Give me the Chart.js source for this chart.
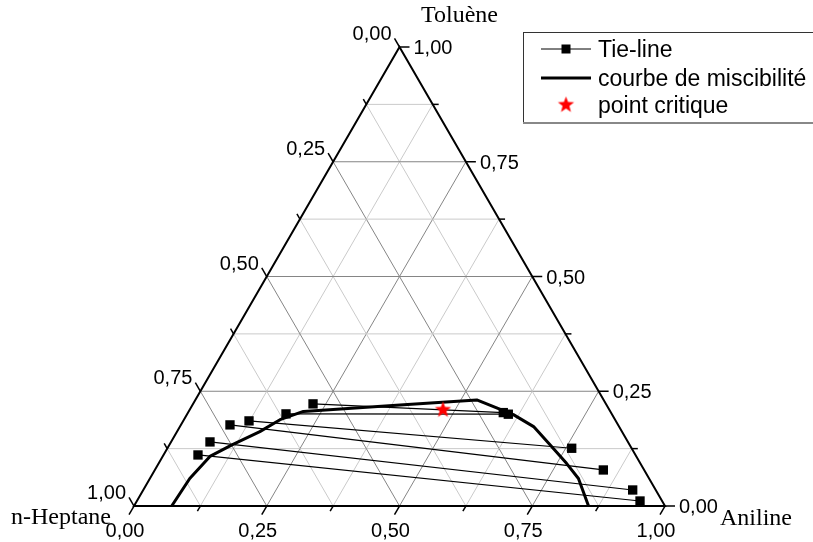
<!DOCTYPE html>
<html><head><meta charset="utf-8">
<script src="https://cdn.jsdelivr.net/npm/chart.js@4/dist/chart.umd.min.js"></script>
<style>html,body{margin:0;padding:0;background:#fff}canvas{display:block}</style>
</head><body>
<canvas id="c" width="813" height="542"></canvas>
<script>
// ---- data (mass fractions) ----
const vertexNames = ['n-Heptane', 'Toluène', 'Aniline'];
const tickValues = [0, 0.25, 0.5, 0.75, 1];
const tickLabels = ['0,00', '0,25', '0,50', '0,75', '1,00'];
const minorTickValues = [0.125, 0.375, 0.625, 0.875];
const gridValues = [0.125, 0.25, 0.375, 0.5, 0.625, 0.75, 0.875];

// tie-lines: heptane-rich end (left) and aniline-rich end (right)
const tieLeftToluene  = [0.2225, 0.2007, 0.1854, 0.1767, 0.1396, 0.1112];
const tieLeftAniline  = [0.2259, 0.1859, 0.1239, 0.0924, 0.0733, 0.0649];
const tieRightToluene = [0.2035, 0.2000, 0.1258, 0.0785, 0.0349, 0.0109];
const tieRightAniline = [0.5937, 0.6049, 0.7614, 0.8446, 0.9217, 0.9475];

// miscibility (binodal) curve
const curveToluene = [0.000, 0.060, 0.108, 0.133, 0.162, 0.188, 0.206, 0.220, 0.231, 0.199, 0.173, 0.137, 0.093, 0.060, 0.000];
const curveAniline = [0.071, 0.075, 0.089, 0.118, 0.156, 0.181, 0.216, 0.391, 0.530, 0.615, 0.666, 0.712, 0.768, 0.807, 0.856];

// critical point
const criticalToluene = [0.2116];
const criticalAniline = [0.4761];

const legendLabels = ['Tie-line', 'courbe de miscibilité', 'point critique'];

// ---- helpers ----
const xy = (a, t) => ({ x: a + t / 2, y: t });

function makeStar(r, color) {
  const s = Math.ceil(2 * r + 2);
  const c = document.createElement('canvas');
  c.width = s; c.height = s;
  const g = c.getContext('2d');
  g.fillStyle = color;
  g.beginPath();
  for (let i = 0; i < 10; i++) {
    const rr = i % 2 ? r * 0.42 : r;
    const ang = -Math.PI / 2 + i * Math.PI / 5;
    g.lineTo(s / 2 + rr * Math.cos(ang), s / 2 + 1 + rr * Math.sin(ang));
  }
  g.closePath();
  g.fill();
  return c;
}
const starImg = makeStar(8.5, '#ff0000');

const datasets = [];
for (let i = 0; i < tieLeftToluene.length; i++) {
  datasets.push({
    data: [xy(tieLeftAniline[i], tieLeftToluene[i]), xy(tieRightAniline[i], tieRightToluene[i])],
    showLine: true, borderColor: '#000', borderWidth: 1.2,
    pointStyle: 'rect', pointRadius: 6.6, pointBackgroundColor: '#000', pointBorderWidth: 0,
    clip: false, order: 2
  });
}
datasets.push({
  data: curveAniline.map((a, i) => xy(a, curveToluene[i])),
  showLine: true, borderColor: '#000', borderWidth: 3, pointRadius: 0, tension: 0,
  borderJoinStyle: 'round', clip: false, order: 1
});
datasets.push({
  data: criticalAniline.map((a, i) => xy(a, criticalToluene[i])),
  showLine: false, pointStyle: starImg, pointRadius: 9, clip: false, order: 0
});

const SANS = '"Liberation Sans", Arial, sans-serif';
const SERIF = '"Liberation Serif", "Times New Roman", serif';

const ternaryPlugin = {
  id: 'ternary',
  beforeDatasetsDraw(chart) {
    const ctx = chart.ctx, sx = chart.scales.x, sy = chart.scales.y;
    const P = (a, t) => [sx.getPixelForValue(a + t / 2), sy.getPixelForValue(t)];
    const line = (p, q) => { ctx.beginPath(); ctx.moveTo(p[0], p[1]); ctx.lineTo(q[0], q[1]); ctx.stroke(); };
    ctx.save();
    // grid
    ctx.lineWidth = 1;
    gridValues.forEach(g => {
      const major = Math.abs(g / 0.25 - Math.round(g / 0.25)) < 1e-6;
      ctx.strokeStyle = major ? '#858585' : '#cacaca';
      line(P(0, g), P(1 - g, g));          // constant toluene
      line(P(g, 0), P(g, 1 - g));          // constant aniline
      line(P(1 - g, 0), P(0, 1 - g));      // constant heptane
    });
    // triangle
    ctx.strokeStyle = '#000';
    ctx.lineWidth = 2;
    ctx.lineJoin = 'miter';
    ctx.beginPath();
    const A = P(0, 0), B = P(1, 0), C = P(0, 1);
    ctx.moveTo(A[0], A[1]); ctx.lineTo(B[0], B[1]); ctx.lineTo(C[0], C[1]); ctx.closePath(); ctx.stroke();
    // ticks
    ctx.lineWidth = 1.5;
    const allTicks = tickValues.map(v => [v, true]).concat(minorTickValues.map(v => [v, false]));
    allTicks.forEach(([v, major]) => {
      const len = major ? 10 : 6;
      let p = P(v, 0); line(p, [p[0] - 0.5 * len, p[1] + 0.866 * len]);      // bottom (aniline)
      p = P(1 - v, v); line(p, [p[0] + len, p[1]]);                          // right (toluene)
      p = P(0, 1 - v); line(p, [p[0] - 0.5 * len, p[1] - 0.866 * len]);      // left (heptane)
    });
    // tick labels
    ctx.fillStyle = '#000';
    ctx.font = '20px ' + SANS;
    ctx.textBaseline = 'alphabetic';
    tickValues.forEach((v, i) => {
      let p = P(v, 0);
      ctx.textAlign = 'center';
      ctx.fillText(tickLabels[i], p[0] - 9, p[1] + 31);
      p = P(1 - v, v);
      ctx.textAlign = 'left';
      ctx.fillText(tickLabels[i], p[0] + 14, p[1] + 7);
      p = P(0, 1 - v);
      ctx.textAlign = 'right';
      ctx.fillText(tickLabels[i], p[0] - 8, p[1] - 7);
    });
    // vertex titles
    ctx.font = '24px ' + SERIF;
    ctx.textAlign = 'left';
    ctx.fillText(vertexNames[1], 421, 22);
    ctx.fillText(vertexNames[0], 11, 524);
    ctx.fillText(vertexNames[2], 720, 525);
    ctx.restore();
  },
  afterDraw(chart) {
    const ctx = chart.ctx;
    ctx.save();
    // legend box
    ctx.strokeStyle = '#333';
    ctx.lineWidth = 1;
    ctx.strokeRect(523.5, 32.5, 300, 90);
    ctx.strokeStyle = '#888';
    ctx.lineWidth = 2;
    ctx.beginPath(); ctx.moveTo(523, 123); ctx.lineTo(813, 123); ctx.stroke();
    // row 1
    ctx.strokeStyle = '#000';
    ctx.lineWidth = 1;
    ctx.beginPath(); ctx.moveTo(541, 49); ctx.lineTo(591, 49); ctx.stroke();
    ctx.fillStyle = '#000';
    ctx.fillRect(561.5, 44.5, 9, 9);
    // row 2
    ctx.lineWidth = 3;
    ctx.beginPath(); ctx.moveTo(541, 78); ctx.lineTo(591, 78); ctx.stroke();
    // row 3
    ctx.drawImage(starImg, 566 - starImg.width / 2, 104 - starImg.height / 2);
    // labels
    ctx.font = '23px ' + SANS;
    ctx.textAlign = 'left';
    ctx.textBaseline = 'alphabetic';
    ctx.fillText(legendLabels[0], 598, 57);
    ctx.fillText(legendLabels[1], 598, 86);
    ctx.fillText(legendLabels[2], 598, 113);
    ctx.restore();
  }
};

new Chart(document.getElementById('c'), {
  type: 'scatter',
  data: { datasets },
  options: {
    responsive: false,
    animation: false,
    devicePixelRatio: 1,
    events: [],
    layout: { padding: { left: 134, right: 148, top: 47, bottom: 36 } },
    scales: {
      x: { type: 'linear', min: 0, max: 1, display: false },
      y: { type: 'linear', min: 0, max: 1, display: false }
    },
    plugins: { legend: { display: false }, tooltip: { enabled: false } }
  },
  plugins: [ternaryPlugin]
});
</script>
</body></html>
